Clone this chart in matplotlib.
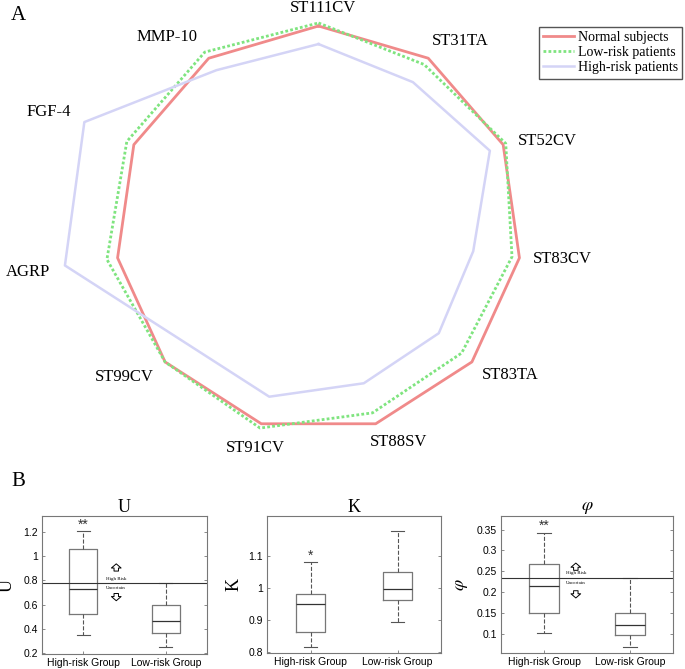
import numpy as np
import matplotlib.pyplot as plt

plt.rcParams['mathtext.fontset'] = 'stix'
SERIF = 'Liberation Serif'
SANS = 'Liberation Sans'

# ---- Panel A data (normalised to normal subjects) ----
features = ['ST111CV', 'ST31TA', 'ST52CV', 'ST83CV', 'ST83TA', 'ST88SV',
            'ST91CV', 'ST99CV', 'AGRP', 'FGF-4', 'MMP-10']
normal = [1.0, 1.0, 1.0, 1.0, 1.0, 1.0, 1.0, 1.0, 1.0, 1.0, 1.0]
low_risk = [1.015, 0.963, 1.014, 0.963, 0.933, 0.944, 1.022, 1.0, 1.053, 1.038, 1.036]
high_risk = [0.911, 0.860, 0.928, 0.77, 0.784, 0.792, 0.861, 0.861, 1.262, 1.268, 0.93]

# label placement (angle in degrees, radius)
label_pos = [(1.2, 1.09), (37.0, 1.16), (69.0, 1.206), (97.0, 1.208), (127.3, 1.186),
             (159.5, 1.12), (196.2, 1.123), (232.7, 1.204), (261.6, 1.447),
             (293.5, 1.447), (321.7, 1.205)]

# ---- Panel B data: [whislo, q1, median, q3, whishi] ----
groups = ['High-risk Group', 'Low-risk Group']
u_high = [0.349, 0.525, 0.729, 1.062, 1.21]
u_low = [0.25, 0.365, 0.461, 0.599, 0.78]
k_high = [0.818, 0.863, 0.95, 0.981, 1.082]
k_low = [0.896, 0.964, 0.997, 1.05, 1.178]
phi_high = [0.1016, 0.151, 0.2154, 0.2665, 0.342]
phi_low = [0.068, 0.096, 0.120, 0.151, 0.233]
u_thresh = 0.78
phi_thresh = 0.233

fig = plt.figure(figsize=(6.85, 6.69), dpi=100)
W, H = 685, 669

def fig_rect(l, t, r, b):
    return [l / W, 1 - b / H, (r - l) / W, (b - t) / H]

# ---- radar ----
rmax = 1.3
rad = 203 * rmax
ax = fig.add_axes(fig_rect(318.5 - rad, 229 - rad, 318.5 + rad, 229 + rad), projection='polar')
ax.set_theta_zero_location('N')
ax.set_theta_direction(-1)
n = len(features)
ang = np.arange(n + 1) * 2 * np.pi / n

def closed(v):
    return list(v) + [v[0]]

l1, = ax.plot(ang, closed(normal), color='#F08A8A', lw=2.0, label='Normal subjects')
l2, = ax.plot(ang, closed(low_risk), color='#7FE47F', lw=2.0, ls=(0, (1, 0.8)), label='Low-risk patients')
l3, = ax.plot(ang, closed(high_risk), color='#D4D4F6', lw=1.8, label='High-risk patients')
ax.set_ylim(0, rmax)
ax.axis('off')
for name, (a, r) in zip(features, label_pos):
    ax.text(np.deg2rad(a), r, name, ha='center', va='center', fontsize=12,
            family=SERIF, clip_on=False)

fig.legend(handles=[l1, l2, l3], loc='upper right', bbox_to_anchor=(682 / W, 1 - 27 / H),
           borderaxespad=0, fancybox=False, edgecolor='#555555', framealpha=1,
           prop={'family': SERIF, 'size': 10}, handlelength=2.2, handletextpad=0.3,
           labelspacing=0.15, borderpad=0.3)

fig.text(18 / W, 1 - 16 / H, 'A', fontsize=15, family=SERIF, ha='center', va='center')
fig.text(18 / W, 1 - 481 / H, 'B', fontsize=15, family=SERIF, ha='center', va='center')

# ---- boxplots ----
def make_stats(v):
    return dict(whislo=v[0], q1=v[1], med=v[2], q3=v[3], whishi=v[4], fliers=[])

panels = [
    dict(rect=(42, 516, 207, 654), high=u_high, low=u_low, title='U', ylabel='U',
         ylim=(0.19, 1.335), ticks=[0.2, 0.4, 0.6, 0.8, 1.0, 1.2], star='**', star_y=1.26,
         thresh=u_thresh, arrow_x=1.40, up=0.938, hr=0.814, un=0.74, down=0.632,
         lab_x=16),
    dict(rect=(267, 516, 441, 653), high=k_high, low=k_low, title='K', ylabel='K',
         ylim=(0.798, 1.225), ticks=[0.8, 0.9, 1.0, 1.1], star='*', star_y=1.10,
         thresh=None, lab_x=243),
    dict(rect=(501, 516, 673, 653), high=phi_high, low=phi_low, title=r'$\varphi$',
         ylabel=r'$\varphi$', ylim=(0.054, 0.3825),
         ticks=[0.1, 0.15, 0.2, 0.25, 0.3, 0.35], star='**', star_y=0.358,
         thresh=phi_thresh, arrow_x=1.37, up=0.2696, hr=0.2457, un=0.221,
         down=0.186, lab_x=470),
]

aprops = dict(arrowstyle='simple,head_length=0.3,head_width=0.7,tail_width=0.32',
              mutation_scale=10, fc='white', ec='black', lw=0.7, shrinkA=0, shrinkB=0)

for p in panels:
    bx = fig.add_axes(fig_rect(*p['rect']))
    bx.bxp([make_stats(p['high']), make_stats(p['low'])], positions=[1, 2], widths=0.34,
           showfliers=False, capwidths=0.16,
           boxprops=dict(color='#777777', lw=0.9),
           whiskerprops=dict(color='#555555', lw=0.8, ls='--'),
           capprops=dict(color='#555555', lw=0.8),
           medianprops=dict(color='#333333', lw=0.9))
    bx.set_xlim(0.5, 2.5)
    bx.set_ylim(*p['ylim'])
    bx.set_yticks(p['ticks'])
    bx.set_yticklabels(['%g' % t for t in p['ticks']])
    bx.set_xticks([1, 2])
    bx.set_xticklabels(groups)
    bx.tick_params(direction='in', length=2, width=0.6, colors='#777777', labelcolor='black',
                   labelsize=7.5, pad=3, right=True)
    for lab in bx.get_xticklabels() + bx.get_yticklabels():
        lab.set_family(SANS)
    for s in bx.spines.values():
        s.set_color('#777777')
        s.set_linewidth(0.8)
    bx.set_title(p['title'], fontsize=13, family=SERIF, pad=3)
    bx.set_ylabel(p['ylabel'], fontsize=13, family=SERIF)
    l, t, r, b = p['rect']
    bx.yaxis.set_label_coords((p['lab_x'] - l) / (r - l), 0.5)
    bx.text(1, p['star_y'], p['star'], ha='center', va='center', fontsize=10, family=SANS,
            color='#333333')
    if p['thresh'] is not None:
        bx.axhline(p['thresh'], color='#333333', lw=0.8)
        x0 = p['arrow_x']
        bx.annotate('', xy=(x0, p['up']), xytext=(0, -5.2), textcoords='offset points',
                    arrowprops=aprops)
        bx.annotate('', xy=(x0, p['down']), xytext=(0, 5.2), textcoords='offset points',
                    arrowprops=aprops)
        bx.text(x0, p['hr'], 'High Risk', ha='center', va='center', fontsize=3.6, family=SERIF)
        bx.text(x0, p['un'], 'Uncertain', ha='center', va='center', fontsize=3.6, family=SERIF)

fig.savefig('out.png', dpi=100)
